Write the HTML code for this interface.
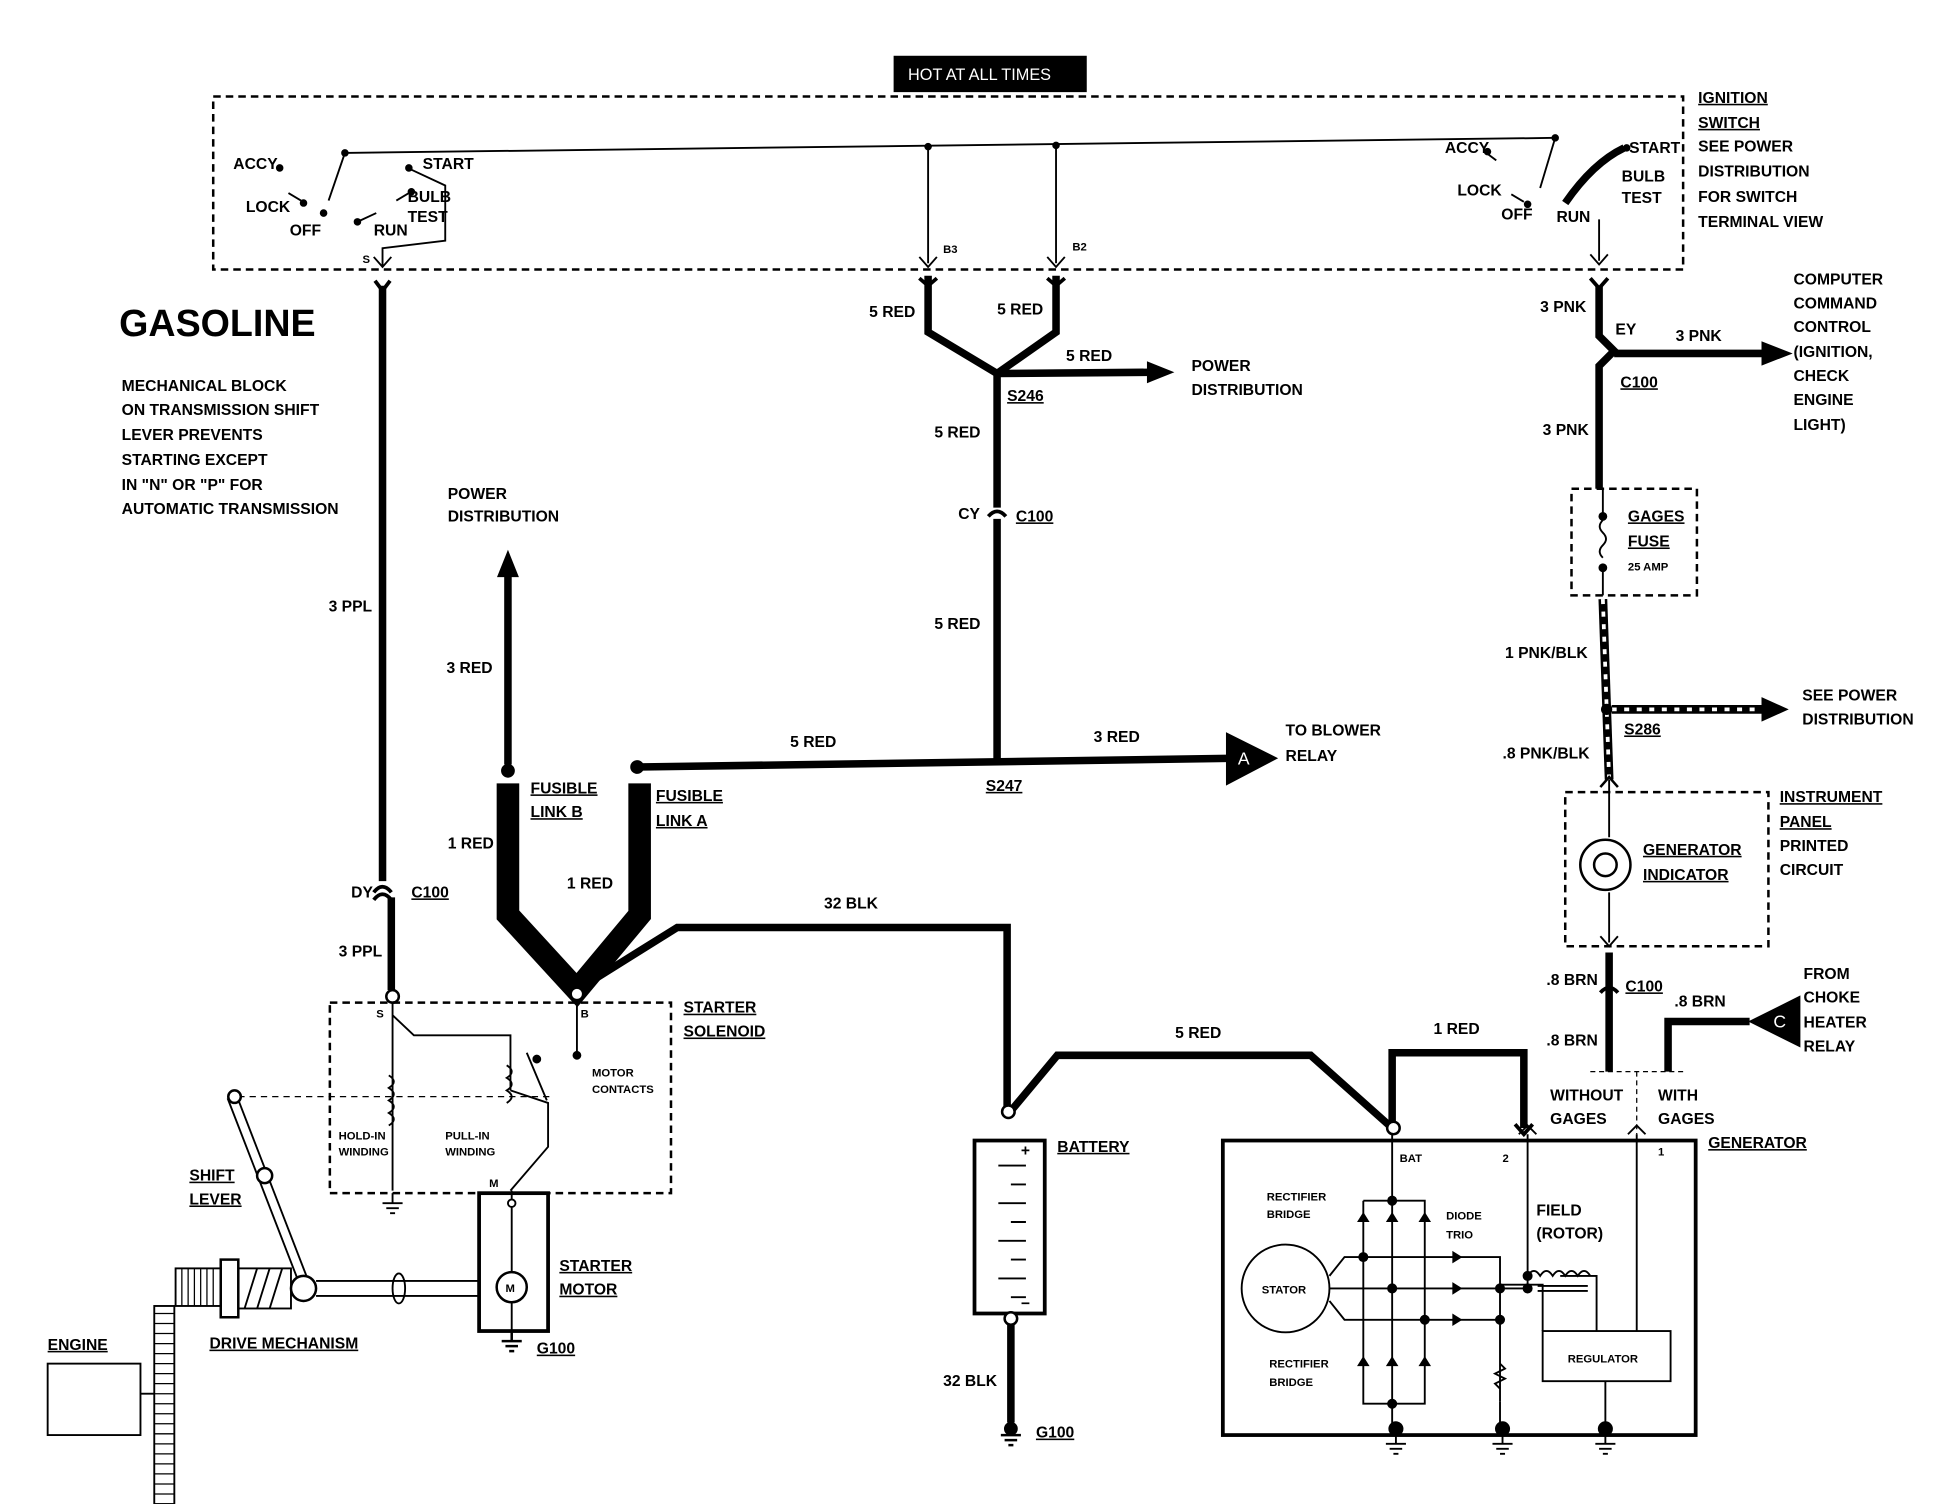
<!DOCTYPE html>
<html><head><meta charset="utf-8"><style>
html,body{margin:0;padding:0;background:#fff;}
svg{display:block;}
text{font-family:"Liberation Sans Narrow","Liberation Sans",sans-serif;font-weight:bold;font-size:12.5px;fill:#000;}
.u{text-decoration:underline;}
.s{font-size:9px;}
</style></head><body>
<svg width="1944" height="1504" viewBox="0 0 1550 1200" preserveAspectRatio="none" xmlns="http://www.w3.org/2000/svg">
<g fill="none" stroke="#000">
<!-- top -->
<rect x="713" y="45" width="153" height="28" fill="#000"/>
<rect x="170" y="77" width="1172" height="138" stroke-width="2" stroke-dasharray="6,4"/>
<line x1="275" y1="122" x2="1240" y2="110" stroke-width="1.5"/>
<line x1="275" y1="122" x2="262" y2="160" stroke-width="1.5"/>
<line x1="740" y1="117" x2="740" y2="210" stroke-width="1.5"/>
<line x1="842" y1="116" x2="842" y2="210" stroke-width="1.5"/>
<path d="M733,205L740,213L747,205M835,205L842,213L849,205" stroke-width="1.5"/>
<line x1="1240" y1="110" x2="1228" y2="150" stroke-width="1.5"/>
<path d="M1248,162Q1270,130 1295,118" stroke-width="6"/>
<path d="M1275,175V208M1268,203L1275,211L1282,203" stroke-width="1.5"/>
<path d="M325,134L355,148V192L305,198V212M298,205L305,213L312,205" stroke-width="1.5"/>
<line x1="287" y1="176" x2="300" y2="170" stroke-width="1.5"/>
<line x1="316" y1="160" x2="326" y2="154" stroke-width="1.5"/>
<line x1="230" y1="154" x2="240" y2="160" stroke-width="1.5"/>
<line x1="1193" y1="128" x2="1185" y2="122" stroke-width="1.5"/>
<line x1="1205" y1="155" x2="1215" y2="161" stroke-width="1.5"/>
<g fill="#000" stroke="none">
<circle cx="223" cy="134" r="3"/><circle cx="242" cy="162" r="3"/><circle cx="258" cy="170" r="3"/><circle cx="285" cy="177" r="3"/><circle cx="326" cy="134" r="3"/><circle cx="328" cy="153" r="3"/><circle cx="275" cy="122" r="3"/>
<circle cx="1186" cy="121" r="3"/><circle cx="1218" cy="163" r="3"/><circle cx="1240" cy="110" r="3"/><circle cx="1297" cy="118" r="3"/><circle cx="740" cy="117" r="3"/><circle cx="842" cy="116" r="3"/>
</g>
<!-- left purple wire -->
<path d="M299,224L305,232L311,224" stroke-width="3"/>
<line x1="305" y1="228" x2="305" y2="703" stroke-width="6"/>
<line x1="312" y1="716" x2="312" y2="790" stroke-width="6"/>
<path d="M298,712Q305,703 312,712" stroke-width="3"/>
<path d="M298,718Q305,709 312,718" stroke-width="3"/>
<!-- middle red -->
<path d="M740,220V265L795,298L842,265V220" stroke-width="6"/>
<path d="M733,222L740,228L747,222M835,222L842,228L849,222" stroke-width="3"/>
<line x1="795" y1="298" x2="920" y2="297" stroke-width="6"/>
<path d="M915,289L935,297L915,305z" fill="#000"/>
<line x1="795" y1="298" x2="795" y2="405" stroke-width="6"/>
<path d="M788,412Q795,404 802,412" stroke-width="3"/>
<line x1="795" y1="414" x2="795" y2="608" stroke-width="6"/>
<line x1="508" y1="612" x2="985" y2="605" stroke-width="6"/>
<path d="M978,585L1018,605L978,626z" fill="#000"/>
<circle cx="508" cy="612" r="5" fill="#000"/>
<!-- power dist left -->
<line x1="405" y1="610" x2="405" y2="455" stroke-width="6"/>
<path d="M397,460L405,440L413,460z" fill="#000"/>
<circle cx="405" cy="615" r="5" fill="#000"/>
<!-- fusible links -->
<path d="M405,625V730L460,790L510,730V625" stroke-width="18" stroke-linejoin="miter"/>
<path d="M460,790L540,740H803V890" stroke-width="6"/>
<path d="M803,890L843,842H1045L1110,900" stroke-width="6"/>
<path d="M1110,900V840H1215V900" stroke-width="6"/>
<path d="M1208,897L1215,905L1222,897" stroke-width="3"/>
<circle cx="460" cy="793" r="5" fill="#fff" stroke-width="2"/>
<circle cx="313" cy="795" r="5" fill="#fff" stroke-width="2"/>
<circle cx="804" cy="887" r="5" fill="#fff" stroke-width="2"/>
<circle cx="1111" cy="900" r="5" fill="#fff" stroke-width="2"/>
<!-- starter solenoid -->
<rect x="263" y="800" width="272" height="152" stroke-width="2" stroke-dasharray="6,4"/>
<path d="M313,800V950M313,810L330,826H407V870M407,870L437,880V915L407,950" stroke-width="1.5"/>
<path d="M310,858q8,5 0,10q8,5 0,10q8,5 0,10q8,5 0,10" stroke-width="1.5"/>
<path d="M404,850q8,5 0,10q8,5 0,10q8,5 0,10" stroke-width="1.5"/>
<path d="M460,800V840M420,840L436,878M460,840" stroke-width="1.5"/>
<circle cx="460" cy="842" r="3" fill="#000"/><circle cx="428" cy="845" r="3" fill="#000"/>
<line x1="190" y1="875" x2="440" y2="875" stroke-width="1" stroke-dasharray="5,4"/>
<path d="M313,952v8M305,960h16M308,964h10M311,968h4" stroke-width="1.5"/>
<!-- starter motor -->
<rect x="382" y="952" width="55" height="110" stroke-width="3"/>
<path d="M408,950V1062" stroke-width="1.5"/>
<circle cx="408" cy="1027" r="12" fill="#fff" stroke-width="2"/>
<circle cx="408" cy="960" r="3" fill="#fff" stroke-width="1.5"/>
<path d="M408,1062v8M400,1070h16M403,1074h10M406,1078h4" stroke-width="2"/>
<!-- shift lever & drive -->
<line x1="185" y1="875" x2="243" y2="1025" stroke-width="9"/>
<line x1="185" y1="875" x2="243" y2="1025" stroke-width="6" stroke="#fff"/>
<circle cx="187" cy="875" r="5" fill="#fff" stroke-width="2"/>
<circle cx="211" cy="938" r="6" fill="#fff" stroke-width="2"/>
<circle cx="242" cy="1028" r="10" fill="#fff" stroke-width="2"/>
<path d="M252,1022H382M252,1034H382" stroke-width="1.5"/>
<ellipse cx="318" cy="1028" rx="5" ry="12" stroke-width="1.5"/>
<rect x="176" y="1005" width="14" height="46" stroke-width="2"/>
<rect x="190" y="1012" width="42" height="32" stroke-width="1.5"/>
<path d="M195,1044L205,1012M205,1044L215,1012M215,1044L225,1012" stroke-width="1.5"/>
<rect x="140" y="1012" width="36" height="30" stroke-width="1.5"/>
<path d="M145,1012v30M150,1012v30M155,1012v30M160,1012v30M165,1012v30M170,1012v30" stroke-width="1"/>
<rect x="123" y="1042" width="16" height="158" stroke-width="1.5"/>
<path d="M123,1048h16M123,1056h16M123,1064h16M123,1072h16M123,1080h16M123,1088h16M123,1096h16M123,1104h16M123,1112h16M123,1120h16M123,1128h16M123,1136h16M123,1144h16M123,1152h16M123,1160h16M123,1168h16M123,1176h16M123,1184h16M123,1192h16" stroke-width="1"/>
<rect x="38" y="1088" width="74" height="57" stroke-width="1.5"/>
<line x1="112" y1="1112" x2="123" y2="1112" stroke-width="1.5"/>
<!-- battery -->
<rect x="777" y="910" width="56" height="138" stroke-width="3"/>
<path d="M796,930h22M806,945h12M796,960h22M806,975h12M796,990h22M806,1005h12M796,1020h22M806,1035h12" stroke-width="1.5"/>
<line x1="806" y1="1055" x2="806" y2="1135" stroke-width="6"/>
<circle cx="806" cy="1052" r="5" fill="#fff" stroke-width="2"/>
<path d="M806,1135v8M798,1145h16M801,1149h10M804,1153h4" stroke-width="2"/>
<circle cx="806" cy="1140" r="5" fill="#000"/>
<!-- generator -->
<rect x="975" y="910" width="377" height="235" stroke-width="3"/>
<path d="M1110,905V1145M1087,958H1136V1120H1087V958M1218,905V1030M1305,905V1062M1196,1025H1230V1062M1244,1018H1273V1062" stroke-width="1.5"/>
<path d="M1211,905L1218,898L1225,905M1298,905L1305,898L1312,905" stroke-width="1.5"/>
<circle cx="1025" cy="1028" r="35" stroke-width="1.5"/>
<path d="M1060,1018L1072,1003H1196V1118M1060,1028H1218M1060,1038L1072,1053H1196" stroke-width="1.5"/>
<path d="M1218,1018q5,-8 10,0q5,-8 10,0q5,-8 10,0q5,-8 10,0q5,-8 10,0" stroke-width="1.5"/>
<path d="M1226,1026h40M1226,1030h40" stroke-width="1.5"/>
<path d="M1196,1088l4,4l-8,4l8,4l-8,4l4,4" stroke-width="1.5"/>
<rect x="1230" y="1062" width="102" height="40" fill="#fff" stroke-width="1.5"/>
<path d="M1280,1102V1140M1196,1118V1140" stroke-width="1.5"/>
<g fill="#000" stroke="none">
<path d="M1082,975h10l-5,-8z M1105,975h10l-5,-8z M1131,975h10l-5,-8z M1082,1090h10l-5,-8z M1105,1090h10l-5,-8z M1131,1090h10l-5,-8z M1158,998v10l8,-5z M1158,1023v10l8,-5z M1158,1048v10l8,-5z"/>
<circle cx="1110" cy="958" r="4"/><circle cx="1087" cy="1003" r="4"/><circle cx="1110" cy="1028" r="4"/><circle cx="1136" cy="1053" r="4"/><circle cx="1196" cy="1028" r="4"/><circle cx="1196" cy="1053" r="4"/><circle cx="1218" cy="1028" r="4"/><circle cx="1218" cy="1018" r="4"/><circle cx="1110" cy="1120" r="4"/>
<circle cx="1113" cy="1140" r="6"/><circle cx="1198" cy="1140" r="6"/><circle cx="1280" cy="1140" r="6"/>
</g>
<path d="M1113,1145v7M1105,1152h16M1108,1156h10M1111,1160h4M1198,1145v7M1190,1152h16M1193,1156h10M1196,1160h4M1280,1145v7M1272,1152h16M1275,1156h10M1278,1160h4" stroke-width="1.5"/>
<!-- right pink -->
<path d="M1268,222L1275,230L1282,222" stroke-width="3"/>
<path d="M1275,228V268L1287,280L1275,292V390" stroke-width="6"/>
<line x1="1287" y1="282" x2="1405" y2="282" stroke-width="6"/>
<path d="M1405,273L1428,282L1405,291z" fill="#000"/>
<rect x="1253" y="390" width="100" height="85" stroke-width="2" stroke-dasharray="6,4"/>
<path d="M1278,390V410M1278,455V475M1278,415q-5,5 0,10q5,5 0,10q-5,5 0,10" stroke-width="1.5"/>
<circle cx="1278" cy="412" r="3" fill="#000"/><circle cx="1278" cy="453" r="3" fill="#000"/>
<line x1="1278" y1="478" x2="1283" y2="622" stroke-width="7"/>
<line x1="1278" y1="478" x2="1283" y2="622" stroke-width="3" stroke="#fff" stroke-dasharray="4,6"/>
<line x1="1285" y1="566" x2="1405" y2="566" stroke-width="7"/>
<line x1="1285" y1="566" x2="1405" y2="566" stroke-width="3" stroke="#fff" stroke-dasharray="4,6"/>
<path d="M1405,557L1425,566L1405,575z" fill="#000"/>
<circle cx="1281" cy="566" r="4" fill="#000"/>
<path d="M1276,628L1283,620L1290,628" stroke-width="2"/>
<rect x="1248" y="632" width="162" height="123" stroke-width="2" stroke-dasharray="6,4"/>
<path d="M1283,622V668M1283,712V752M1276,747L1283,755L1290,747" stroke-width="1.5"/>
<circle cx="1280" cy="690" r="20" stroke-width="2"/>
<circle cx="1280" cy="690" r="9" stroke-width="2"/>
<line x1="1283" y1="760" x2="1283" y2="855" stroke-width="6"/>
<path d="M1276,792Q1283,784 1290,792" stroke-width="3"/>
<path d="M1395,815H1330V855" stroke-width="6"/>
<path d="M1395,815L1435,795V835z" fill="#000"/>
<path d="M1268,855H1345M1305,855V905" stroke-width="1" stroke-dasharray="4,3"/>
</g>
<text x="724" y="64" style="fill:#fff;font-weight:normal;font-family:'Liberation Sans',sans-serif;font-size:13px">HOT AT ALL TIMES</text>
<text x="186" y="135">ACCY</text><text x="196" y="169">LOCK</text><text x="231" y="188">OFF</text><text x="298" y="188">RUN</text>
<text x="337" y="135">START</text><text x="325" y="161">BULB</text><text x="325" y="177">TEST</text><text x="289" y="210" class="s">S</text>
<text x="752" y="202" class="s">B3</text><text x="855" y="200" class="s">B2</text>
<text x="1152" y="122">ACCY</text><text x="1162" y="156">LOCK</text><text x="1197" y="175">OFF</text><text x="1241" y="177">RUN</text>
<text x="1299" y="122">START</text><text x="1293" y="145">BULB</text><text x="1293" y="162">TEST</text>
<text x="1354" y="82" class="u">IGNITION</text><text x="1354" y="102" class="u">SWITCH</text><text x="1354" y="121">SEE POWER</text><text x="1354" y="141">DISTRIBUTION</text><text x="1354" y="161">FOR SWITCH</text><text x="1354" y="181">TERMINAL VIEW</text>
<text x="95" y="268" style="font-size:30px;font-family:'Liberation Sans',sans-serif">GASOLINE</text>
<text x="97" y="312">MECHANICAL BLOCK</text><text x="97" y="331">ON TRANSMISSION SHIFT</text><text x="97" y="351">LEVER PREVENTS</text><text x="97" y="371">STARTING EXCEPT</text><text x="97" y="391">IN "N" OR "P" FOR</text><text x="97" y="410">AUTOMATIC TRANSMISSION</text>
<text x="262" y="488">3 PPL</text><text x="280" y="716">DY</text><text x="328" y="716" class="u">C100</text><text x="270" y="763">3 PPL</text>
<text x="693" y="253">5 RED</text><text x="795" y="251">5 RED</text><text x="850" y="288">5 RED</text>
<text x="950" y="296">POWER</text><text x="950" y="315">DISTRIBUTION</text><text x="803" y="320" class="u">S246</text>
<text x="745" y="349">5 RED</text><text x="764" y="414">CY</text><text x="810" y="416" class="u">C100</text><text x="745" y="502">5 RED</text>
<text x="357" y="398">POWER</text><text x="357" y="416">DISTRIBUTION</text><text x="356" y="537">3 RED</text>
<text x="630" y="596">5 RED</text><text x="872" y="592">3 RED</text><text x="786" y="631" class="u">S247</text>
<text x="1025" y="587">TO BLOWER</text><text x="1025" y="607">RELAY</text>
<text x="987" y="610" style="fill:#fff;font-weight:normal;font-size:14px">A</text>
<text x="423" y="633" class="u">FUSIBLE</text><text x="423" y="652" class="u">LINK B</text><text x="523" y="639" class="u">FUSIBLE</text><text x="523" y="659" class="u">LINK A</text>
<text x="357" y="677">1 RED</text><text x="452" y="709">1 RED</text><text x="657" y="725">32 BLK</text>
<text x="545" y="808" class="u">STARTER</text><text x="545" y="827" class="u">SOLENOID</text>
<text x="300" y="812" class="s">S</text><text x="463" y="812" class="s">B</text><text x="390" y="947" class="s">M</text>
<text x="472" y="859" class="s">MOTOR</text><text x="472" y="872" class="s">CONTACTS</text>
<text x="270" y="909" class="s">HOLD-IN</text><text x="270" y="922" class="s">WINDING</text><text x="355" y="909" class="s">PULL-IN</text><text x="355" y="922" class="s">WINDING</text>
<text x="151" y="942" class="u">SHIFT</text><text x="151" y="961" class="u">LEVER</text>
<text x="446" y="1014" class="u">STARTER</text><text x="446" y="1033" class="u">MOTOR</text><text x="403" y="1031" class="s">M</text>
<text x="428" y="1080" class="u">G100</text><text x="167" y="1076" class="u">DRIVE MECHANISM</text><text x="38" y="1077" class="u">ENGINE</text>
<text x="937" y="828">5 RED</text><text x="1143" y="825">1 RED</text>
<text x="843" y="919" class="u">BATTERY</text><text x="814" y="922">+</text><text x="814" y="1044">−</text>
<text x="752" y="1106">32 BLK</text><text x="826" y="1147" class="u">G100</text>
<text x="1116" y="927" class="s">BAT</text><text x="1198" y="927" class="s">2</text><text x="1322" y="922" class="s">1</text>
<text x="1362" y="916" class="u">GENERATOR</text>
<text x="1010" y="958" class="s">RECTIFIER</text><text x="1010" y="972" class="s">BRIDGE</text><text x="1153" y="973" class="s">DIODE</text><text x="1153" y="988" class="s">TRIO</text>
<text x="1225" y="970">FIELD</text><text x="1225" y="988">(ROTOR)</text><text x="1006" y="1032" class="s">STATOR</text>
<text x="1012" y="1091" class="s">RECTIFIER</text><text x="1012" y="1106" class="s">BRIDGE</text><text x="1250" y="1087" class="s">REGULATOR</text>
<text x="1228" y="249">3 PNK</text><text x="1288" y="267">EY</text><text x="1336" y="272">3 PNK</text><text x="1292" y="309" class="u">C100</text><text x="1230" y="347">3 PNK</text>
<text x="1430" y="227">COMPUTER</text><text x="1430" y="246">COMMAND</text><text x="1430" y="265">CONTROL</text><text x="1430" y="285">(IGNITION,</text><text x="1430" y="304">CHECK</text><text x="1430" y="323">ENGINE</text><text x="1430" y="343">LIGHT)</text>
<text x="1298" y="416" class="u">GAGES</text><text x="1298" y="436" class="u">FUSE</text><text x="1298" y="455" class="s">25 AMP</text>
<text x="1200" y="525">1 PNK/BLK</text><text x="1437" y="559">SEE POWER</text><text x="1437" y="578">DISTRIBUTION</text><text x="1295" y="586" class="u">S286</text>
<text x="1198" y="605">.8 PNK/BLK</text>
<text x="1419" y="640" class="u">INSTRUMENT</text><text x="1419" y="660" class="u">PANEL</text><text x="1419" y="679">PRINTED</text><text x="1419" y="698">CIRCUIT</text>
<text x="1310" y="682" class="u">GENERATOR</text><text x="1310" y="702" class="u">INDICATOR</text>
<text x="1233" y="786">.8 BRN</text><text x="1296" y="791" class="u">C100</text><text x="1335" y="803">.8 BRN</text><text x="1233" y="834">.8 BRN</text>
<text x="1438" y="781">FROM</text><text x="1438" y="800">CHOKE</text><text x="1438" y="820">HEATER</text><text x="1438" y="839">RELAY</text>
<text x="1414" y="820" style="fill:#fff;font-weight:normal;font-size:14px">C</text>
<text x="1236" y="878">WITHOUT</text><text x="1236" y="897">GAGES</text><text x="1322" y="878">WITH</text><text x="1322" y="897">GAGES</text>
</svg>
</body></html>
